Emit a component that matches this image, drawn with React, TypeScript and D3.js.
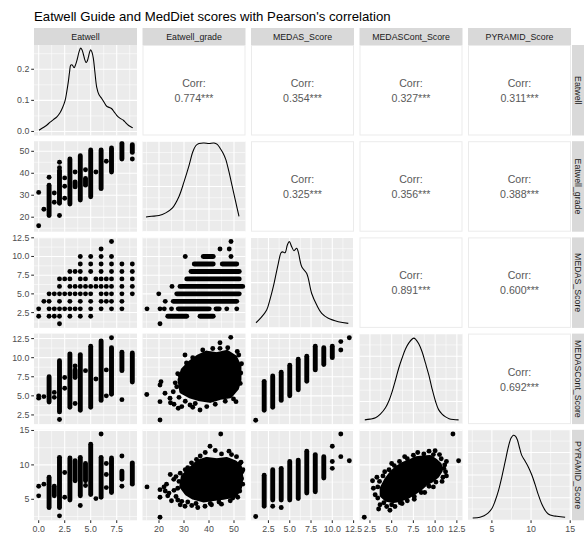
import React from "react";
import * as d3 from "d3";

// ---------- data ----------
const variables = ["Eatwell", "Eatwell_grade", "MEDAS_Score", "MEDASCont_Score", "PYRAMID_Score"];
const domains: [number, number][] = [
  [-0.45, 9.45],
  [13.4, 54.6],
  [0.45, 12.55],
  [1.3, 13.15],
  [1.95, 15.1],
];
const axisTicks = [
  [0, 2.5, 5, 7.5],
  [20, 30, 40, 50],
  [2.5, 5, 7.5, 10, 12.5],
  [2.5, 5, 7.5, 10, 12.5],
  [5, 10, 15],
];
const axisTickLabels = [
  ["0.0", "2.5", "5.0", "7.5"],
  ["20", "30", "40", "50"],
  ["2.5", "5.0", "7.5", "10.0", "12.5"],
  ["2.5", "5.0", "7.5", "10.0", "12.5"],
  ["5", "10", "15"],
];
const densityTicks = [0, 0.1, 0.2];
const densityTickLabels = ["0.0", "0.1", "0.2"];
const densityDomain: [number, number] = [-0.013, 0.278];
const relDensityTicks = [0, 0.25, 0.5, 0.75, 1];

const title = "Eatwell Guide and MedDiet scores with Pearson's correlation";
// upper triangle correlations, row by row
const corrValues = [
  ["0.774", "0.354", "0.327", "0.311"],
  ["0.325", "0.356", "0.388"],
  ["0.891", "0.600"],
  ["0.692"],
];
const corrStars = "***";

// diagonal densities (Eatwell in density units, others as share of panel height)
const densityEatwell: [number, number][] = [
  [0.03, 0.004], [0.4, 0.012], [0.77, 0.02], [1.1, 0.03], [1.41, 0.038], [1.75, 0.047],
  [2.05, 0.06], [2.3, 0.077], [2.53, 0.098], [2.7, 0.128], [2.85, 0.16], [2.97, 0.192],
  [3.08, 0.213], [3.22, 0.214], [3.4, 0.205], [3.55, 0.215], [3.71, 0.233], [3.88, 0.256],
  [4.04, 0.268], [4.17, 0.262], [4.29, 0.249], [4.42, 0.232], [4.55, 0.222], [4.66, 0.226],
  [4.77, 0.238], [4.9, 0.256], [5.0, 0.263], [5.12, 0.255], [5.25, 0.236], [5.4, 0.192],
  [5.58, 0.142], [5.8, 0.118], [6.06, 0.106], [6.3, 0.093], [6.54, 0.081], [6.8, 0.077],
  [7.02, 0.073], [7.25, 0.063], [7.5, 0.052], [7.8, 0.043], [8.14, 0.036], [8.4, 0.027],
  [8.62, 0.02], [8.85, 0.015], [9.04, 0.012],
];
const densityGrade: [number, number][] = [
  [14.8, 0.163], [17, 0.17], [20, 0.178], [22.7, 0.208], [25.3, 0.26], [28, 0.39],
  [30, 0.55], [32, 0.73], [33.5, 0.88], [34.7, 0.95], [36, 0.975], [38, 0.98],
  [40, 0.975], [42, 0.98], [43.3, 0.965], [44.5, 0.92], [45.6, 0.87], [46.7, 0.8],
  [48, 0.66], [49.3, 0.5], [50.6, 0.34], [52, 0.17],
];
const densityMedas: [number, number][] = [
  [1.04, 0.057], [1.6, 0.11], [2.29, 0.198], [2.7, 0.32], [3.07, 0.455], [3.4, 0.6],
  [3.66, 0.714], [3.98, 0.83], [4.17, 0.84], [4.45, 0.83], [4.72, 0.916], [4.95, 0.953],
  [5.23, 0.897], [5.5, 0.853], [5.82, 0.88], [6.0, 0.84], [6.41, 0.676], [7.0, 0.6],
  [7.58, 0.38], [8.17, 0.253], [8.76, 0.16], [9.53, 0.106], [10.7, 0.069], [11.88, 0.05],
];
const densityMedasCont: [number, number][] = [
  [1.91, 0.047], [2.5, 0.055], [3.14, 0.07], [3.7, 0.11], [4.29, 0.18], [4.7, 0.26],
  [5.06, 0.36], [5.45, 0.49], [5.82, 0.62], [6.2, 0.73], [6.59, 0.83], [7.0, 0.9],
  [7.36, 0.94], [7.55, 0.95], [7.74, 0.94], [8.1, 0.89], [8.5, 0.8], [8.9, 0.67],
  [9.28, 0.54], [9.65, 0.39], [10.05, 0.25], [10.4, 0.16], [10.8, 0.11], [11.2, 0.08],
  [11.6, 0.06], [12.1, 0.05], [12.7, 0.047],
];
const densityPyramid: [number, number][] = [
  [2.55, 0.026], [3.48, 0.034], [4.0, 0.05], [4.54, 0.082], [5.0, 0.13], [5.4, 0.21],
  [5.85, 0.33], [6.26, 0.475], [6.7, 0.65], [7.1, 0.81], [7.45, 0.91], [7.74, 0.94],
  [8.0, 0.93], [8.25, 0.89], [8.5, 0.81], [8.8, 0.72], [9.2, 0.66], [9.65, 0.59],
  [10.1, 0.5], [10.5, 0.4], [10.9, 0.29], [11.37, 0.18], [11.8, 0.11], [12.2, 0.07],
  [12.8, 0.05], [13.3, 0.045], [14.35, 0.034],
];

// Eatwell_grade vs Eatwell: [eatwell, grade] points, [eatwell, gradeLow, gradeHigh] stacked runs
const gradeByEatwellPoints: [number, number][] = [
  [0, 31.3], [0, 16.1], [0.5, 23.6], [1, 38.2], [1.5, 31], [1.5, 26.8], [2, 45], [2, 42.5],
  [2, 20.8], [2.5, 37.9], [2.5, 34.1], [2.5, 28.6], [3.5, 40.6], [4.5, 41.6], [5.5, 40.6],
  [6.5, 45.5], [9, 46.5],
];
const gradeByEatwellRuns: [number, number, number][] = [
  [1, 20.8, 34.6], [2, 26.3, 41.3], [3, 26.0, 46.5], [3.5, 33.8, 36.1], [4, 27.8, 48],
  [4.5, 34.6, 37.6], [5, 29.3, 50.6], [6, 33.0, 50.6], [7, 40.6, 51.5], [8, 46.5, 53.6],
  [9, 49.5, 53],
];

// MEDAS vs Eatwell: [medas, eatwell values]
const medasByEatwell: [number, number[]][] = [
  [12, [7]],
  [11, [6]],
  [10, [4, 5, 6, 7]],
  [9, [4, 5, 6, 7, 8, 9]],
  [8, [3, 3.5, 4, 5, 6, 7, 8, 9]],
  [7, [2, 2.5, 3, 4, 4.5, 5.5, 6, 6.5, 7, 8, 9]],
  [6, [2, 3, 3.5, 4, 4.5, 5, 5.5, 6, 6.5, 7, 8, 9]],
  [5, [1, 1.5, 2, 2.5, 3, 3.5, 4, 4.5, 5, 6, 6.5, 7, 8, 9]],
  [4, [0.5, 1, 2, 3, 4, 5, 6, 6.5, 7, 8]],
  [3, [0, 1, 1.5, 2, 2.5, 3, 3.5, 4, 5, 6, 7, 8]],
  [2, [0, 1, 1.5, 2, 3, 4, 5]],
  [1, [2]],
];

// MEDAS vs Eatwell_grade: [medas, gradeLow, gradeHigh] runs, [grade, medas] points
const medasByGradeRuns: [number, number, number][] = [
  [10, 37.7, 41.7], [9, 34.1, 41.7], [9, 45.3, 51.1], [8, 32.8, 52.1], [7, 31.1, 52.1],
  [6, 29.1, 53.5], [5, 27.1, 52.1], [4, 25.7, 51.1], [3, 27.7, 40.1], [3, 42.8, 44.1],
  [2, 23.5, 31.1], [2, 36.4, 41.7],
];
const medasByGradePoints: [number, number][] = [
  [48.8, 12], [44.4, 11], [48.1, 11], [30.5, 10], [48.8, 10], [25.2, 6], [28.4, 6],
  [19.9, 5], [22.5, 4], [15.2, 3], [20.4, 3], [22.1, 3], [25.0, 3], [47.1, 3], [51.1, 3],
  [20.4, 1],
];

// MEDASCont vs Eatwell
const medasContByEatwellRuns: [number, number, number][] = [
  [1, 4.2, 7.5], [2, 2.9, 9.6], [3, 3.5, 10.5], [3.5, 7.4, 8.4], [4, 3.1, 10.4],
  [5, 3.5, 11.5], [6, 4.4, 12.2], [7, 5.2, 11.3], [8, 8.3, 10.7], [9, 6.8, 10.6],
];
const medasContByEatwellPoints: [number, number][] = [
  [0, 5.0], [0, 4.7], [0.5, 4.9], [1.5, 5.45], [1.5, 4.8], [2, 1.9], [2.5, 7.4], [2.5, 6.0],
  [3.5, 8.9], [3.5, 4.0], [4.5, 8.3], [5.5, 7.2], [6.5, 8.4], [6.5, 5.0], [7, 12.6], [8, 4.5],
];

// MEDASCont vs Eatwell_grade: dense core outline + scattered points
const medasContByGradeCore: [number, number][] = [
  [28.4, 7.1], [29.7, 8.4], [32.4, 9.3], [35.7, 10.1], [39.1, 10.6], [43.1, 10.4], [47.1, 10.7],
  [50.4, 10.0], [52.0, 8.8], [52.0, 7.1], [51.0, 6.0], [48.4, 5.0], [44.4, 4.8], [40.4, 4.4],
  [36.4, 4.6], [32.4, 5.0], [29.1, 5.6],
];
const medasContByGradePoints: [number, number][] = [
  [15.1, 5.17], [20.4, 1.84], [20.4, 4.24], [20.4, 6.42], [20.8, 6.86], [22.4, 5.33],
  [24.4, 4.68], [24.6, 4.1], [25.7, 5.54], [27.1, 6.2], [27.7, 3.37], [29.1, 3.59],
  [28.4, 7.73], [30.4, 10.35], [32.4, 3.8], [36.4, 3.15], [39.1, 3.59], [48.7, 12.66],
  [44.4, 11.96], [44.4, 11.22], [50.8, 4.24], [51.9, 10.35], [52.5, 6.63], [47.5, 11.3],
  [41.5, 11.2], [37.5, 11.0], [33.5, 10.0], [31.0, 9.3], [27.5, 7.9], [26.5, 6.7],
  [28.0, 4.8], [30.5, 4.3], [34.5, 4.0], [42.5, 3.9], [46.5, 4.3], [49.8, 4.6], [52.7, 8.0],
  [53.0, 9.2], [51.3, 10.8], [33.5, 3.5], [26.0, 3.9],
];

// MEDASCont vs MEDAS
const medasContByMedasRuns: [number, number, number][] = [
  [2, 3.1, 6.9], [3, 3.5, 7.6], [4, 4.4, 8.1], [5, 5.0, 9.0], [6, 5.8, 9.8], [7, 6.9, 10.2],
  [8, 8.4, 11.5], [9, 9.1, 11.3], [10, 10.0, 11.5],
];
const medasContByMedasPoints: [number, number][] = [
  [1, 1.8], [11, 12.1], [11, 11.0], [12, 12.6],
];

// PYRAMID vs Eatwell
const pyramidByEatwellRuns: [number, number, number][] = [
  [1, 3.8, 8.2], [1.5, 5.5, 6.9], [2, 3.8, 11.1], [3, 4.9, 11.0], [3.5, 7.7, 10.6],
  [4, 5.5, 11.1], [4.5, 7.7, 10.2], [5, 5.7, 13.0], [6, 5.3, 11.1], [7, 6.0, 11.0],
  [8, 7.9, 9.1], [9, 7.2, 10.3],
];
const pyramidByEatwellPoints: [number, number][] = [
  [0, 6.9], [0, 5.5], [0.5, 7.2], [2, 2.6], [2.5, 8.9], [2.5, 5.3], [4, 4.1], [4.5, 7.0],
  [5.5, 5.1], [6, 14.5], [6.5, 10.2], [6.5, 8.6], [6.5, 6.7], [8, 11.3], [8, 6.9],
];

// PYRAMID vs Eatwell_grade
const pyramidByGradeCore: [number, number][] = [
  [29.7, 8.3], [32.4, 9.3], [35.7, 10.4], [39.1, 10.8], [43.1, 10.6], [47.1, 10.8],
  [50.4, 10.3], [52.2, 9.7], [52.8, 8.1], [52.2, 6.7], [50.4, 5.6], [45.7, 5.3], [41.7, 5.1],
  [37.7, 4.9], [33.7, 5.3], [31.1, 5.9], [29.1, 6.9],
];
const pyramidByGradePoints: [number, number][] = [
  [15.2, 6.8], [20.4, 2.4], [20.4, 6.4], [20.4, 5.3], [22.0, 6.8], [23.0, 7.2], [24.0, 5.9],
  [25.0, 4.8], [25.9, 7.9], [26.8, 8.3], [26.8, 5.4], [27.5, 6.6], [29.1, 4.7], [30.4, 4.0],
  [33.1, 4.1], [35.5, 3.8], [38.4, 4.0], [41.0, 4.2], [45.0, 4.3], [49.5, 5.2], [52.3, 6.2],
  [53.0, 8.0], [53.2, 9.0], [52.4, 10.2], [51.0, 11.2], [48.0, 12.0], [44.7, 14.5],
  [40.4, 12.7], [38.5, 11.8], [42.5, 12.1], [35.0, 10.8], [31.5, 9.6], [28.5, 8.8],
  [24.5, 8.6], [22.5, 6.2], [23.5, 5.5], [26.0, 6.3], [27.5, 4.9], [28.5, 4.2], [31.5, 4.6],
  [34.8, 4.4], [40.5, 4.4], [44.0, 4.6], [48.5, 4.8], [51.5, 5.3], [53.5, 7.2], [53.6, 9.3],
  [52.8, 10.4], [49.0, 11.5], [45.0, 11.6], [36.5, 11.3], [33.0, 10.3], [30.5, 9.3], [28.0, 7.6],
];

// PYRAMID vs MEDAS
const pyramidByMedasRuns: [number, number, number][] = [
  [2, 4.0, 8.5], [3, 4.9, 9.3], [4, 4.9, 9.5], [5, 4.9, 10.5], [6, 5.1, 10.7],
  [7, 5.9, 12.0], [8, 6.1, 11.5], [9, 8.1, 11.2],
];
const pyramidByMedasPoints: [number, number][] = [
  [1, 2.5], [3, 4.0], [4, 3.8], [10, 12.7], [10, 10.5], [10, 9.5], [11, 14.5], [11, 11.2],
  [12, 10.6],
];

// PYRAMID vs MEDASCont
const pyramidByMedasContCore: [number, number][] = [
  [3.9, 6.6], [4.4, 7.8], [5.0, 8.8], [5.6, 9.5], [6.3, 10.1], [7.0, 10.4], [7.8, 10.9],
  [8.6, 11.0], [9.4, 11.1], [10.0, 10.6], [10.5, 10.0], [10.6, 9.2], [10.2, 8.4], [9.6, 7.8],
  [8.9, 7.3], [8.3, 6.6], [7.6, 6.0], [6.8, 5.4], [6.0, 5.0], [5.2, 4.8], [4.4, 5.0], [3.9, 5.6],
];
const pyramidByMedasContPoints: [number, number][] = [
  [1.85, 2.4], [3.1, 5.66], [3.66, 4.2], [4.43, 3.95], [5.38, 3.95], [6.2, 4.4], [2.9, 6.6],
  [3.3, 8.2], [4.2, 9.0], [5.0, 10.2], [6.5, 11.2], [8.0, 11.8], [9.3, 12.0], [10.0, 12.05],
  [10.5, 11.5], [11.3, 10.5], [11.0, 9.5], [11.3, 8.4], [10.8, 7.6], [9.8, 6.8], [8.8, 6.0],
  [7.6, 5.0], [12.05, 14.5], [12.7, 10.6], [2.8, 7.7], [3.5, 3.6], [4.8, 3.4],
  [3.4, 6.8], [3.6, 7.6], [4.0, 8.4], [4.7, 9.3], [5.3, 9.9], [5.9, 10.5], [6.8, 10.9],
  [7.5, 11.4], [8.7, 11.6], [9.8, 11.5], [10.7, 10.9], [11.1, 10.0], [11.2, 9.0], [10.9, 8.2],
  [10.1, 7.5], [9.3, 6.9], [8.4, 6.0], [7.6, 5.4], [6.8, 4.8], [6.0, 4.5], [5.0, 4.2],
  [4.1, 4.5], [3.4, 5.2],
];

// ---------- chart ----------
type Spec = {
  points?: [number, number][];
  vruns?: [number, number, number][];
  hruns?: [number, number, number][];
  core?: [number, number][];
};

const scatterSpecs: Record<string, Spec> = {
  "1-0": { points: gradeByEatwellPoints, vruns: gradeByEatwellRuns },
  "2-0": { points: medasByEatwell.flatMap(([m, xs]) => xs.map((x) => [x, m] as [number, number])) },
  "2-1": { points: medasByGradePoints, hruns: medasByGradeRuns },
  "3-0": { points: medasContByEatwellPoints, vruns: medasContByEatwellRuns },
  "3-1": { points: medasContByGradePoints, core: medasContByGradeCore },
  "3-2": { points: medasContByMedasPoints, vruns: medasContByMedasRuns },
  "4-0": { points: pyramidByEatwellPoints, vruns: pyramidByEatwellRuns },
  "4-1": { points: pyramidByGradePoints, core: pyramidByGradeCore },
  "4-2": { points: pyramidByMedasPoints, vruns: pyramidByMedasRuns },
  "4-3": { points: pyramidByMedasContPoints, core: pyramidByMedasContCore },
};
const diagDensities = [densityEatwell, densityGrade, densityMedas, densityMedasCont, densityPyramid];

const FONT = "'Liberation Sans', Arial, Helvetica, sans-serif";
const W = 584, H = 534;
const PW = 103, PH = 90.5;
const R = 2.45;
const colX = (c: number) => 34 + c * 108.5;
const rowY = (r: number) => 45 + r * 96.2;

function minorBreaks(major: number[], domain: [number, number]) {
  const step = major[1] - major[0];
  const ext = [major[0] - step, ...major, major[major.length - 1] + step];
  const out: number[] = [];
  for (let i = 0; i < ext.length - 1; i++) out.push((ext[i] + ext[i + 1]) / 2);
  return out.filter((v) => v > domain[0] && v < domain[1]);
}

export default function App() {
  const n = variables.length;
  const xs = variables.map((_, c) => d3.scaleLinear().domain(domains[c]).range([colX(c), colX(c) + PW]));
  const ys = variables.map((_, r) => d3.scaleLinear().domain(domains[r]).range([rowY(r) + PH, rowY(r)]));
  const yDiag = variables.map((_, r) =>
    r === 0
      ? d3.scaleLinear().domain(densityDomain).range([rowY(0) + PH, rowY(0)])
      : d3.scaleLinear().domain([0, 1]).range([rowY(r) + PH, rowY(r)])
  );

  const panels: React.ReactNode[] = [];
  for (let r = 0; r < n; r++) {
    for (let c = 0; c < n; c++) {
      const x0 = colX(c), y0 = rowY(r);
      const key = `${r}-${c}`;
      if (r < c) {
        const cx = x0 + PW / 2, cy = y0 + PH / 2;
        panels.push(
          <g key={key}>
            <rect x={x0 + 0.5} y={y0 + 0.5} width={PW - 1} height={PH - 1} fill="#fff" stroke="#EBEBEB" strokeWidth={1} />
            <text x={cx} y={cy - 7.2} textAnchor="middle" dominantBaseline="central" fontSize={10.6} fill="#595959">Corr:</text>
            <text x={cx} y={cy + 7.8} textAnchor="middle" dominantBaseline="central" fontSize={10.6} fill="#595959">
              {corrValues[r][c - r - 1] + corrStars}
            </text>
          </g>
        );
        continue;
      }
      const xsc = xs[c];
      const ysc = r === c ? yDiag[r] : ys[r];
      const yMajor = r === c ? (r === 0 ? densityTicks : relDensityTicks) : axisTicks[r];
      const yDom = ysc.domain() as [number, number];
      const yMinor = r === c && r > 0 ? [0.125, 0.375, 0.625, 0.875] : minorBreaks(yMajor, yDom);
      const xMinor = minorBreaks(axisTicks[c], domains[c]);
      const spec = scatterSpecs[key];
      const clipId = `clip-${key}`;
      panels.push(
        <g key={key}>
          <clipPath id={clipId}>
            <rect x={x0} y={y0} width={PW} height={PH} />
          </clipPath>
          <rect x={x0} y={y0} width={PW} height={PH} fill="#EBEBEB" />
          {xMinor.map((t, i) => (
            <line key={"xm" + i} x1={xsc(t)} x2={xsc(t)} y1={y0} y2={y0 + PH} stroke="#fff" strokeWidth={0.55} />
          ))}
          {yMinor.map((t, i) => (
            <line key={"ym" + i} y1={ysc(t)} y2={ysc(t)} x1={x0} x2={x0 + PW} stroke="#fff" strokeWidth={0.55} />
          ))}
          {axisTicks[c].map((t, i) => (
            <line key={"xM" + i} x1={xsc(t)} x2={xsc(t)} y1={y0} y2={y0 + PH} stroke="#fff" strokeWidth={1.07} />
          ))}
          {yMajor.map((t, i) => (
            <line key={"yM" + i} y1={ysc(t)} y2={ysc(t)} x1={x0} x2={x0 + PW} stroke="#fff" strokeWidth={1.07} />
          ))}
          <g clipPath={`url(#${clipId})`}>
            {r === c && (
              <path
                d={
                  d3
                    .line<[number, number]>()
                    .x((d) => xsc(d[0]))
                    .y((d) => ysc(d[1]))
                    .curve(d3.curveCatmullRom.alpha(0.5))(diagDensities[r]) || ""
                }
                fill="none"
                stroke="#000"
                strokeWidth={1.07}
              />
            )}
            {spec && spec.core && (
              <path
                d={
                  d3
                    .line<[number, number]>()
                    .x((d) => xsc(d[0]))
                    .y((d) => ysc(d[1]))
                    .curve(d3.curveLinearClosed)(spec.core) || ""
                }
                fill="#000"
                stroke="#000"
                strokeWidth={2 * R}
                strokeLinejoin="round"
              />
            )}
            {spec &&
              spec.vruns &&
              spec.vruns.map(([x, a, b], i) => (
                <line key={"v" + i} x1={xsc(x)} x2={xsc(x)} y1={ysc(a)} y2={ysc(b)} stroke="#000" strokeWidth={2 * R} strokeLinecap="round" />
              ))}
            {spec &&
              spec.hruns &&
              spec.hruns.map(([y, a, b], i) => (
                <line key={"h" + i} y1={ysc(y)} y2={ysc(y)} x1={xsc(a)} x2={xsc(b)} stroke="#000" strokeWidth={2 * R} strokeLinecap="round" />
              ))}
            {spec &&
              spec.points &&
              spec.points.map(([x, y], i) => <circle key={"p" + i} cx={xsc(x)} cy={ysc(y)} r={R} fill="#000" />)}
          </g>
        </g>
      );
    }
  }

  const bottom = rowY(n - 1) + PH;

  return (
    <svg width={W} height={H} style={{ position: "absolute", left: 0, top: 0, display: "block" }} fontFamily={FONT}>
      <rect width={W} height={H} fill="#fff" />
      <text x={34} y={20.5} fontSize={13.2} fill="#000">{title}</text>
      {variables.map((v, c) => (
        <g key={"st" + c}>
          <rect x={colX(c)} y={28} width={PW} height={17} fill="#D9D9D9" />
          <text x={colX(c) + PW / 2} y={36.7} textAnchor="middle" dominantBaseline="central" fontSize={8.8} fill="#1A1A1A">{v}</text>
        </g>
      ))}
      {variables.map((v, r) => (
        <g key={"sr" + r}>
          <rect x={572} y={rowY(r)} width={14} height={PH} fill="#D9D9D9" />
          <text
            transform={`translate(${578.3},${rowY(r) + PH / 2}) rotate(90)`}
            textAnchor="middle"
            dominantBaseline="central"
            fontSize={8.8}
            fill="#1A1A1A"
          >
            {v}
          </text>
        </g>
      ))}
      {panels}
      {/* left axes */}
      {variables.map((_, r) => {
        const ticks = r === 0 ? densityTicks : axisTicks[r];
        const labels = r === 0 ? densityTickLabels : axisTickLabels[r];
        const sc = r === 0 ? yDiag[0] : ys[r];
        return (
          <g key={"ya" + r}>
            {ticks.map((t, i) => (
              <g key={i}>
                <line x1={31.2} x2={34} y1={sc(t)} y2={sc(t)} stroke="#333" strokeWidth={1.07} />
                <text x={29.3} y={sc(t)} textAnchor="end" dominantBaseline="central" fontSize={8.8} fill="#4D4D4D">{labels[i]}</text>
              </g>
            ))}
          </g>
        );
      })}
      {/* bottom axes */}
      {variables.map((_, c) => (
        <g key={"xa" + c}>
          {axisTicks[c].map((t, i) => (
            <g key={i}>
              <line x1={xs[c](t)} x2={xs[c](t)} y1={bottom} y2={bottom + 2.75} stroke="#333" strokeWidth={1.07} />
              <text x={xs[c](t)} y={bottom + 8.3} textAnchor="middle" dominantBaseline="central" fontSize={8.8} fill="#4D4D4D">
                {axisTickLabels[c][i]}
              </text>
            </g>
          ))}
        </g>
      ))}
    </svg>
  );
}
